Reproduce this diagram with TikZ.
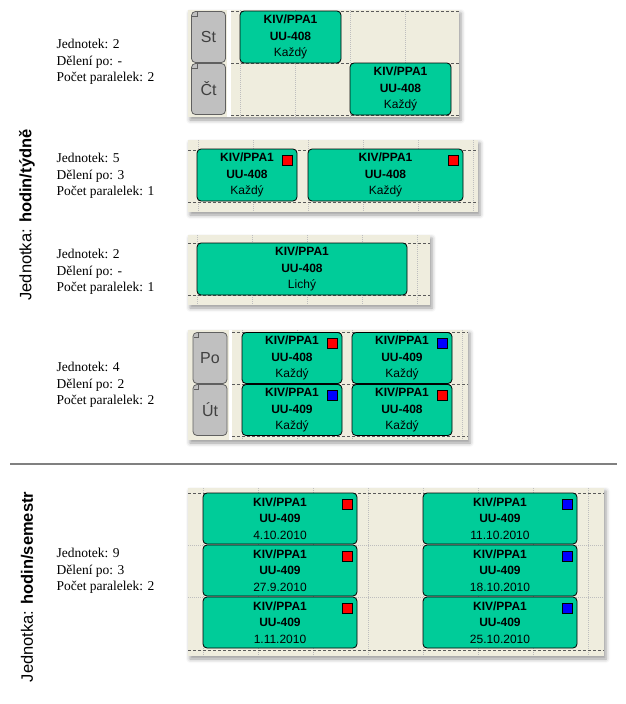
\documentclass[tikz,border=0pt]{standalone}
\usepackage{fontspec}
\setmainfont{Liberation Serif}
\setsansfont{Liberation Sans}
\usetikzlibrary{positioning,shadows.blur}

\definecolor{evtgreen}{RGB}{0,204,153}
\definecolor{panelbg}{RGB}{239,237,222}
\definecolor{daygray}{RGB}{192,192,192}
\definecolor{dayline}{RGB}{96,96,96}
\definecolor{daytext}{RGB}{64,64,64}
\definecolor{gridline}{RGB}{90,90,90}
\definecolor{dotline}{RGB}{190,190,190}

\tikzset{
    panel/.style={fill=panelbg, blur shadow={shadow xshift=2pt, shadow yshift=-3pt, shadow blur radius=4pt, shadow opacity=40}},
    hgrid/.style={gridline, dash pattern=on 3pt off 2pt, line width=0.7pt},
    vgrid/.style={dotline, dash pattern=on 1pt off 1pt, line width=0.6pt},
    evt/.style={draw=black, fill=evtgreen, rounded corners=4pt, line width=0.8pt, inner sep=0pt, align=center, font=\sffamily\fontsize{12}{16.5}\selectfont},
    dayb/.style={draw=dayline, fill=daygray, rounded corners=4pt, line width=0.8pt, minimum width=34pt, minimum height=51pt, text=daytext, font=\sffamily\fontsize{16}{16}\selectfont},
    notch/.style={dayline, line width=0.5pt},
    sq/.style={draw=black, line width=0.6pt, minimum size=10pt, inner sep=0pt},
    info/.style={anchor=west, align=left, font=\fontsize{13.5}{16.5}\selectfont},
    unit/.style={rotate=90, font=\sffamily\fontsize{16.5}{16.5}\selectfont},
}

\begin{document}
\begin{tikzpicture}[x=1pt, y=-1pt]
        \useasboundingbox (0,0) rectangle (626,704);

        % Jednotky
        \node[unit] (unitA) at (27,215) {Jednotka: \textbf{hodin/týdně}};
        \node[unit] (unitB) at (27,587) {Jednotka: \textbf{hodin/semestr}};
        \draw[gray, line width=1.5pt] (10,464) -- (617,464);

        % Panel 1
        \node[info] (infoA) at (53,62) {Jednotek: 2\\Dělení po: -\\Počet paralelek: 2};
        \path[panel] (188,10) rectangle (459,117);
        \fill[white] (227,10) rectangle (231,117);
        \foreach \x in {240,295,350,405} \draw[vgrid] (\x,10) -- (\x,117);
        \foreach \y in {11,63,115} \draw[hgrid] (231,\y) -- (459,\y);
        \node[dayb] (dSt) at (208.5,37) {St};
        \node[dayb] (dCt) at (208.5,89) {Čt};
        \draw[notch] ([shift={(1,5)}]dSt.north west) -- ++(5,0) -- ++(0,-5);
        \draw[notch] ([shift={(1,5)}]dCt.north west) -- ++(5,0) -- ++(0,-5);
        \node[evt, minimum width=101pt, minimum height=52pt] (eA1) at (290.5,37) {\textbf{KIV/PPA1}\\\textbf{UU-408}\\Každý};
        \node[evt, minimum width=101pt, minimum height=52pt] (eA2) at (400.5,89) {\textbf{KIV/PPA1}\\\textbf{UU-408}\\Každý};

        % Panel 2
        \node[info] (infoB) at (53,176) {Jednotek: 5\\Dělení po: 3\\Počet paralelek: 1};
        \path[panel] (188,140) rectangle (478,212);
        \foreach \x in {198,253,308,363,418,473} \draw[vgrid] (\x,140) -- (\x,212);
        \foreach \y in {150,202} \draw[hgrid] (188,\y) -- (478,\y);
        \node[evt, minimum width=100pt, minimum height=52pt] (eB1) at (247,175) {\textbf{KIV/PPA1}\\\textbf{UU-408}\\Každý};
        \node[evt, minimum width=155pt, minimum height=52pt] (eB2) at (385.5,175) {\textbf{KIV/PPA1}\\\textbf{UU-408}\\Každý};
        \node[sq, fill=red, below left=6pt and 5pt of eB1.north east] (qB1) {};
        \node[sq, fill=red, below left=6pt and 5pt of eB2.north east] (qB2) {};

        % Panel 3
        \node[info] (infoC) at (53,272) {Jednotek: 2\\Dělení po: -\\Počet paralelek: 1};
        \path[panel] (188,235) rectangle (430,305);
        \foreach \x in {197,252,307,362,417} \draw[vgrid] (\x,235) -- (\x,305);
        \foreach \y in {243,295} \draw[hgrid] (188,\y) -- (430,\y);
        \node[evt, minimum width=210pt, minimum height=52pt] (eC1) at (302,269) {\textbf{KIV/PPA1}\\\textbf{UU-408}\\Lichý};

        % Panel 4
        \node[info] (infoD) at (53,385) {Jednotek: 4\\Dělení po: 2\\Počet paralelek: 2};
        \path[panel] (188,330) rectangle (468,440);
        \fill[white] (229,330) rectangle (232,440);
        \foreach \x in {242,297,352,407,462} \draw[vgrid] (\x,330) -- (\x,440);
        \foreach \y in {332,384,436} \draw[hgrid] (232,\y) -- (468,\y);
        \node[dayb] (dPo) at (210,358) {Po};
        \node[dayb] (dUt) at (210,410) {Út};
        \draw[notch] ([shift={(1,5)}]dPo.north west) -- ++(5,0) -- ++(0,-5);
        \draw[notch] ([shift={(1,5)}]dUt.north west) -- ++(5,0) -- ++(0,-5);
        \node[evt, minimum width=100pt, minimum height=51pt] (eD1) at (292,358) {\textbf{KIV/PPA1}\\\textbf{UU-408}\\Každý};
        \node[evt, minimum width=100pt, minimum height=51pt] (eD2) at (402,358) {\textbf{KIV/PPA1}\\\textbf{UU-409}\\Každý};
        \node[evt, minimum width=100pt, minimum height=51pt] (eD3) at (292,410) {\textbf{KIV/PPA1}\\\textbf{UU-409}\\Každý};
        \node[evt, minimum width=100pt, minimum height=51pt] (eD4) at (402,410) {\textbf{KIV/PPA1}\\\textbf{UU-408}\\Každý};
        \node[sq, fill=red, below left=6pt and 5pt of eD1.north east] (qD1) {};
        \node[sq, fill=blue, below left=6pt and 5pt of eD2.north east] (qD2) {};
        \node[sq, fill=blue, below left=6pt and 5pt of eD3.north east] (qD3) {};
        \node[sq, fill=red, below left=6pt and 5pt of eD4.north east] (qD4) {};

        % Panel 5
        \node[info] (infoE) at (53,571) {Jednotek: 9\\Dělení po: 3\\Počet paralelek: 2};
        \path[panel] (188,488) rectangle (604,656);
        \foreach \x in {203,258,...,588} \draw[vgrid] (\x,488) -- (\x,656);
        \foreach \y in {545,597} \draw[vgrid] (188,\y) -- (604,\y);
        \foreach \y in {493,650} \draw[hgrid] (188,\y) -- (604,\y);
        \foreach \r/\y/\da/\db in {1/518.5/4.10.2010/11.10.2010, 2/570.5/27.9.2010/18.10.2010, 3/622.5/1.11.2010/25.10.2010} {
            \node[evt, minimum width=154pt, minimum height=51pt] (eE\r a) at (280,\y) {\textbf{KIV/PPA1}\\\textbf{UU-409}\\\da};
            \node[evt, minimum width=154pt, minimum height=51pt] (eE\r b) at (500,\y) {\textbf{KIV/PPA1}\\\textbf{UU-409}\\\db};
            \node[sq, fill=red, below left=6pt and 5pt of eE\r a.north east] (qE\r a) {};
            \node[sq, fill=blue, below left=6pt and 5pt of eE\r b.north east] (qE\r b) {};
        }

\end{tikzpicture}
\end{document}
